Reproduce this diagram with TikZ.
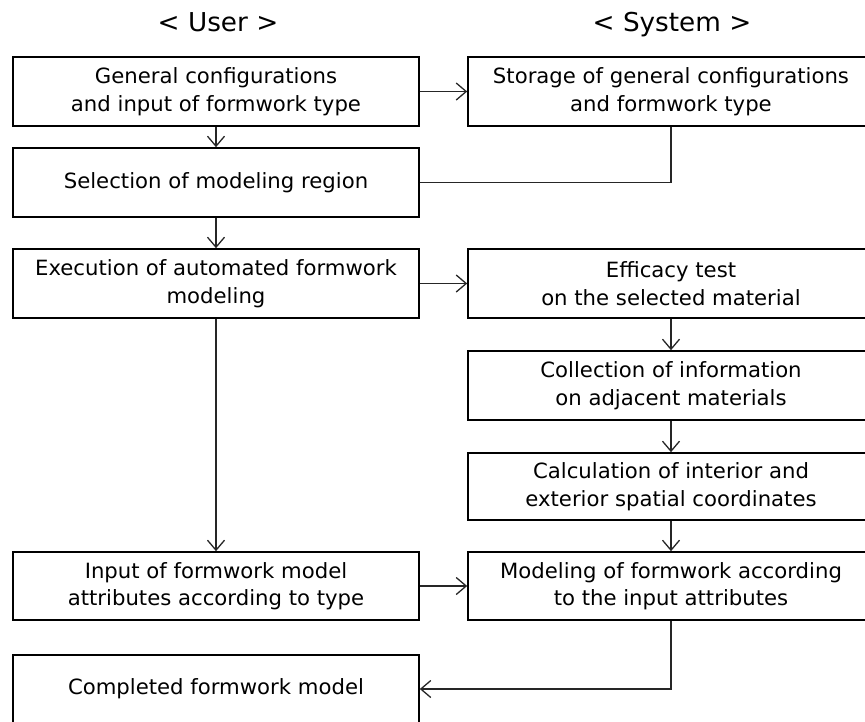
\documentclass[tikz,border=0pt]{standalone}
\usepackage{fontspec}
\setmainfont{DejaVu Sans}[FakeStretch=1.01]
\usetikzlibrary{arrows.meta}
\begin{document}
\begin{tikzpicture}[x=1pt,y=-1pt,
  box/.style={draw=black, line width=1.6pt, rectangle, minimum width=406pt, minimum height=69pt,
    align=center, inner sep=0pt, font=\fontsize{21}{27.5}\selectfont},
  conn/.style={draw=black!85, line width=1.3pt},
  arr/.style={conn, -{Straight Barb[length=10pt,width=17pt,line width=1.3pt]}},
  title/.style={anchor=base, font=\fontsize{26}{30}\selectfont}]
\useasboundingbox (0,0) rectangle (865,721);
\node[title] (tu) at (218,31) {< User >};
\node[title] (ts) at (672,31) {< System >};
\node[box] (b1) at (216,91.5) {General configurations\\and input of formwork type};
\node[box] (s1) at (671,91.5) {Storage of general configurations\\and formwork type};
\node[box] (b2) at (216,182.5) {Selection of modeling region};
\node[box] (b3) at (216,283.5) {Execution of automated formwork\\modeling};
\node[box] (s2) at (671,283.5) {Efficacy test\\on the selected material};
\node[box] (s3) at (671,385.5) {Collection of information\\on adjacent materials};
\node[box, minimum height=67pt] (s4) at (671,486.5) {Calculation of interior and\\exterior spatial coordinates};
\node[box, minimum height=68pt] (b4) at (216,586) {Input of formwork model\\attributes according to type};
\node[box, minimum height=68pt] (s5) at (671,586) {Modeling of formwork according\\to the input attributes};
\node[box, minimum height=68pt] (b5) at (216,689) {Completed formwork model};
\draw[arr] (b1.east) -- (s1.west);
\draw[arr] (b1.south) -- (b2.north);
\draw[conn] (s1.south) |- (b2.east);
\draw[arr] (b2.south) -- (b3.north);
\draw[arr] (b3.east) -- (s2.west);
\draw[arr] (s2.south) -- (s3.north);
\draw[arr] (s3.south) -- (s4.north);
\draw[arr] (s4.south) -- (s5.north);
\draw[arr] (b3.south) -- (b4.north);
\draw[arr] (b4.east) -- (s5.west);
\draw[arr] (s5.south) |- (b5.east);
\end{tikzpicture}
\end{document}
